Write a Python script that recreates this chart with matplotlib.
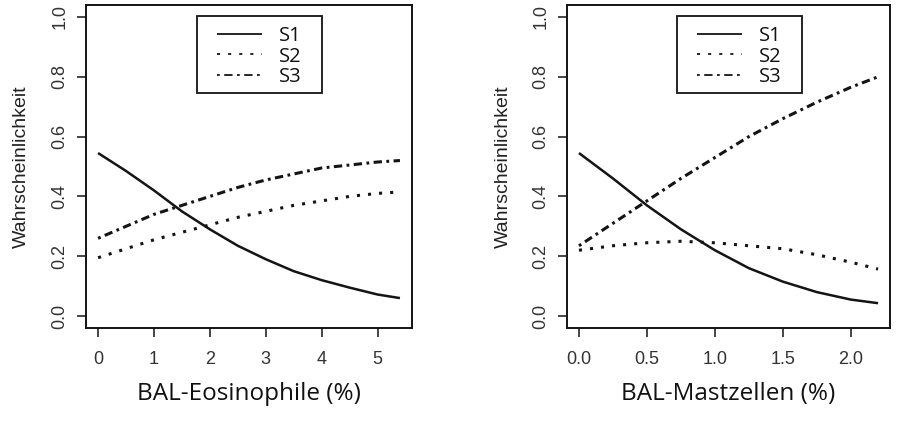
import matplotlib
matplotlib.use("Agg")
import matplotlib.pyplot as plt
from matplotlib.patches import Rectangle

# Wahrscheinlichkeiten der drei Stadien
eos_x = [0, 0.5, 1, 1.5, 2, 2.5, 3, 3.5, 4, 4.5, 5, 5.4]
eos_s1 = [0.545, 0.485, 0.42, 0.35, 0.29, 0.235, 0.19, 0.15, 0.12, 0.095, 0.072, 0.06]
eos_s2 = [0.195, 0.225, 0.255, 0.28, 0.305, 0.33, 0.35, 0.37, 0.385, 0.40, 0.41, 0.415]
eos_s3 = [0.26, 0.30, 0.34, 0.37, 0.40, 0.43, 0.455, 0.475, 0.495, 0.505, 0.515, 0.52]
eos_ticks = [0, 1, 2, 3, 4, 5]

mast_x = [0, 0.25, 0.5, 0.75, 1.0, 1.25, 1.5, 1.75, 2.0, 2.2]
mast_s1 = [0.545, 0.46, 0.37, 0.29, 0.22, 0.16, 0.115, 0.08, 0.055, 0.043]
mast_s2 = [0.22, 0.235, 0.245, 0.25, 0.245, 0.235, 0.225, 0.205, 0.18, 0.157]
mast_s3 = [0.235, 0.31, 0.385, 0.46, 0.53, 0.60, 0.66, 0.715, 0.765, 0.80]
mast_ticks = [0.0, 0.5, 1.0, 1.5, 2.0]

y_ticks = [0.0, 0.2, 0.4, 0.6, 0.8, 1.0]
labels = ["S1", "S2", "S3"]

plt.rcParams['lines.scale_dashes'] = False
W, H = 898, 424
fig = plt.figure(figsize=(W / 100, H / 100), dpi=100)

ink = "#141414"
# Linienbreite im Plot / in der Legende
plot_styles = [dict(linestyle="-", lw=1.8),
               dict(linestyle=(0, (2.2, 5.8)), lw=2.2),
               dict(linestyle=(0, (2.0, 3.2, 6.0, 3.2)), lw=2.2)]


def panel(left_px, right_px, x, series, ticks, tlabels, xmax, xlabel, leg_px):
    ax = fig.add_axes([left_px / W, 1 - 328 / H, (right_px - left_px) / W, 323 / H])
    for ys, st, lab in zip(series, plot_styles, labels):
        ax.plot(x, ys, color=ink, label=lab, solid_capstyle="butt", **st)
    ax.set_xlim(-0.04 * xmax, 1.04 * xmax)
    ax.set_ylim(-0.04, 1.04)
    ax.set_xticks(ticks)
    ax.set_xticklabels(tlabels, fontname="Liberation Sans", fontsize=13, color="#333333")
    ax.set_yticks(y_ticks)
    ax.set_yticklabels(["%.1f" % v for v in y_ticks], rotation=90, va="center",
                       fontname="Liberation Sans", fontsize=13, color="#333333")
    ax.tick_params(axis="x", direction="out", length=6.5, width=1.1, pad=10, color=ink)
    ax.tick_params(axis="y", direction="out", length=6.5, width=1.1, pad=6, color=ink)
    for s in ax.spines.values():
        s.set_linewidth(1.4)
        s.set_color(ink)
    ax.set_ylabel("Wahrscheinlichkeit", fontname="Liberation Sans", fontsize=14,
                  color="#222222", va="center")
    ax.yaxis.set_label_coords(-0.197, 0.5)
    ax.set_xlabel(xlabel, fontname="Open Sans", fontsize=17.5, color="#111111", va="center")
    ax.xaxis.set_label_coords(0.5, -0.203)

    # Legende mit eckigem Rahmen wie in R
    lx0, lx1, ly0, ly1 = leg_px
    w_ax = right_px - left_px
    fx0 = (lx0 - left_px) / w_ax
    fx1 = (lx1 - left_px) / w_ax
    fy0 = (328 - ly1) / 323
    fy1 = (328 - ly0) / 323
    ax.add_patch(Rectangle((fx0, fy0), fx1 - fx0, fy1 - fy0, transform=ax.transAxes,
                           fill=False, edgecolor=ink, linewidth=1.3, zorder=5))
    shift = 2 / 323  # Eintraege sitzen etwas tiefer im Rahmen
    leg = ax.legend(loc="center", bbox_to_anchor=(fx0, fy0 - shift, fx1 - fx0, fy1 - fy0),
                    frameon=False, prop={"family": "Open Sans", "size": 14.5},
                    handlelength=2.2, handletextpad=0.85, labelspacing=0.03,
                    borderpad=0.2)
    for t in leg.get_texts():
        t.set_color("#111111")
    for ln in leg.get_lines():
        ln.set_linewidth(1.3)
    return ax


panel(86, 412, eos_x, [eos_s1, eos_s2, eos_s3], eos_ticks,
      [str(t) for t in eos_ticks], 5.4, "BAL-Eosinophile (%)", (197, 322, 16, 93))
panel(567, 890, mast_x, [mast_s1, mast_s2, mast_s3], mast_ticks,
      ["%.1f" % t for t in mast_ticks], 2.2, "BAL-Mastzellen (%)", (677, 802, 16, 93))

fig.savefig("out.png", dpi=100)
